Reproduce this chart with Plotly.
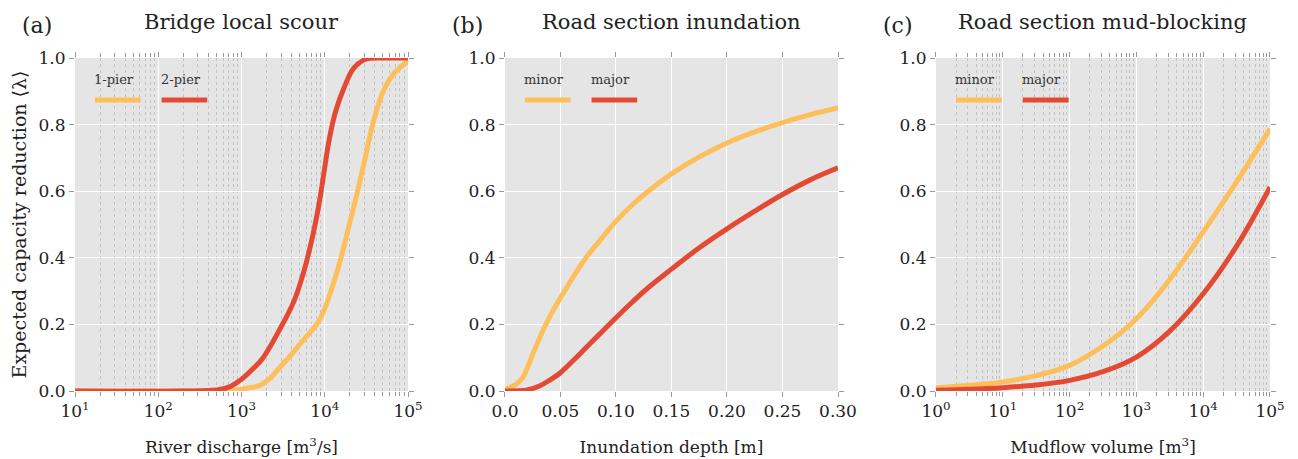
import math
import plotly.graph_objects as go
from plotly.subplots import make_subplots

# ---- data ----
# (a) Bridge local scour: river discharge [m3/s]
scour_q_1pier = [10, 300, 630, 890, 1260, 1700, 2240, 2940, 3980, 5100, 6600, 8500, 10000,
                 11700, 15400, 19400, 24400, 30800, 38700, 51000, 67300, 100000]
scour_1pier = [0, 0, 0, 0.004, 0.01, 0.018, 0.04, 0.073, 0.11, 0.143, 0.175, 0.21, 0.248,
               0.295, 0.393, 0.493, 0.593, 0.703, 0.813, 0.903, 0.953, 0.99]
scour_q_2pier = [10, 200, 500, 710, 1000, 1260, 1780, 2950, 4270, 5620, 7080, 8510, 9770,
                 11200, 13500, 17000, 22400, 31600, 50000, 100000]
scour_2pier = [0, 0, 0.003, 0.012, 0.035, 0.058, 0.097, 0.19, 0.27, 0.36, 0.46, 0.56, 0.655,
               0.75, 0.84, 0.91, 0.97, 0.997, 1.0, 1.0]

# (b) Road section inundation: depth [m]
inund_depth_minor = [0.0, 0.01, 0.016, 0.025, 0.034, 0.043, 0.05, 0.061, 0.073, 0.085, 0.10,
                     0.115, 0.13, 0.15, 0.175, 0.20, 0.225, 0.25, 0.275, 0.30]
inund_minor = [0.005, 0.02, 0.04, 0.11, 0.18, 0.24, 0.28, 0.34, 0.40, 0.45, 0.51,
               0.56, 0.602, 0.652, 0.703, 0.745, 0.778, 0.806, 0.83, 0.85]
inund_depth_major = [0.0, 0.01, 0.019, 0.031, 0.04, 0.05, 0.061, 0.073, 0.085, 0.10, 0.115,
                     0.13, 0.15, 0.175, 0.20, 0.225, 0.25, 0.275, 0.30]
inund_major = [0.0, 0.0005, 0.002, 0.015, 0.032, 0.055, 0.09, 0.13, 0.17, 0.22, 0.268,
               0.313, 0.366, 0.43, 0.487, 0.54, 0.59, 0.634, 0.67]

# (c) Road section mud-blocking: mudflow volume [m3]
mud_vol = [1, 3.16, 10, 31.6, 100, 316, 1000, 3160, 10000, 31600, 100000]
mud_minor = [0.01, 0.017, 0.027, 0.046, 0.077, 0.135, 0.217, 0.335, 0.478, 0.628, 0.787]
mud_major = [0.002, 0.005, 0.01, 0.018, 0.032, 0.058, 0.102, 0.18, 0.292, 0.435, 0.612]

titles = ["Bridge local scour", "Road section inundation", "Road section mud-blocking"]
panel_labels = ["(a)", "(b)", "(c)"]
legend_names = [["1-pier", "2-pier"], ["minor", "major"], ["minor", "major"]]
xtitles = ["River discharge [m<sup>3</sup>/s]", "Inundation depth [m]", "Mudflow volume [m<sup>3</sup>]"]
ytitle = "Expected capacity reduction \u27e8\u03bb\u27e9"
y_ticks = [0.0, 0.2, 0.4, 0.6, 0.8, 1.0]
y_ticktext = ["0.0", "0.2", "0.4", "0.6", "0.8", "1.0"]
lin_ticks = [0.0, 0.05, 0.10, 0.15, 0.20, 0.25, 0.30]
lin_ticktext = ["0.0", "0.05", "0.10", "0.15", "0.20", "0.25", "0.30"]
log_ticks_a = [10, 100, 1000, 10000, 100000]
log_text_a = ["10<sup>1</sup>", "10<sup>2</sup>", "10<sup>3</sup>", "10<sup>4</sup>", "10<sup>5</sup>"]
log_ticks_c = [1, 10, 100, 1000, 10000, 100000]
log_text_c = ["10<sup>0</sup>", "10<sup>1</sup>", "10<sup>2</sup>", "10<sup>3</sup>", "10<sup>4</sup>", "10<sup>5</sup>"]

YEL = "#FDBF5C"
RED = "#E34A33"
FONT = "DejaVu Serif"
TICKC = "#999999"
TXT = "#222222"

fig = make_subplots(rows=1, cols=3)
doms = [[0.0, 0.2787], [0.3598, 0.6385], [0.7205, 1.0]]

series = [
    [(scour_q_1pier, scour_1pier, YEL), (scour_q_2pier, scour_2pier, RED)],
    [(inund_depth_minor, inund_minor, YEL), (inund_depth_major, inund_major, RED)],
    [(mud_vol, mud_minor, YEL), (mud_vol, mud_major, RED)],
]
for i, ser in enumerate(series):
    for xs, ys, c in ser:
        fig.add_trace(go.Scatter(x=xs, y=ys, mode="lines",
                                 line=dict(color=c, width=5, shape="spline", smoothing=1.0),
                                 showlegend=False, hoverinfo="skip", cliponaxis=True),
                      row=1, col=i + 1)


def minor_vals(lo, hi):
    out = []
    for k in range(lo, hi):
        for m in range(2, 10):
            out.append(m * 10 ** k)
    return out


for i in range(3):
    ax = "xaxis" if i == 0 else f"xaxis{i+1}"
    ay = "yaxis" if i == 0 else f"yaxis{i+1}"
    xa = dict(domain=doms[i], title_text=xtitles[i], showline=False, zeroline=False,
              ticks="outside", ticklen=5, tickcolor=TICKC, mirror="ticks", automargin=False,
              gridcolor="white", gridwidth=1.3,
              tickfont=dict(family=FONT, size=17, color=TXT),
              title_font=dict(family=FONT, size=17, color=TXT), title_standoff=20)
    if i == 1:
        xa.update(type="linear", range=[0, 0.30], tickmode="array",
                  tickvals=lin_ticks, ticktext=lin_ticktext)
    else:
        tv = log_ticks_a if i == 0 else log_ticks_c
        tt = log_text_a if i == 0 else log_text_c
        lo, hi = int(round(math.log10(tv[0]))), int(round(math.log10(tv[-1])))
        xa.update(type="log", range=[lo, hi], tickmode="array", tickvals=tv, ticktext=tt,
                  minor=dict(tickmode="array", tickvals=minor_vals(lo, hi), ticks="outside",
                             ticklen=4, tickcolor=TICKC, showgrid=True,
                             gridcolor="#C2C2C2", griddash="dot", gridwidth=0.8))
    fig.layout[ax].update(xa)
    ya = dict(showline=False, zeroline=False, ticks="outside", ticklen=5, tickcolor=TICKC,
              mirror="ticks", gridcolor="white", gridwidth=1.3, range=[0, 1.0], automargin=False,
              tickmode="array", tickvals=y_ticks, ticktext=y_ticktext,
              tickfont=dict(family=FONT, size=17, color=TXT))
    if i == 0:
        ya.update(title_text=ytitle, title_font=dict(family=FONT, size=19, color=TXT),
                  title_standoff=7)
    fig.layout[ay].update(ya)

    xr = "x domain" if i == 0 else f"x{i+1} domain"
    yr = "y domain" if i == 0 else f"y{i+1} domain"
    fig.add_annotation(text=titles[i], xref=xr, yref="paper", x=0.5, y=1.0, yshift=36,
                       showarrow=False, font=dict(family=FONT, size=21, color=TXT),
                       xanchor="center", yanchor="middle")
    fig.add_annotation(text=panel_labels[i], xref=xr, yref="paper", x=0.0, y=1.0,
                       xshift=-55, yshift=33, showarrow=False,
                       font=dict(family=FONT, size=22, color=TXT),
                       xanchor="left", yanchor="middle")
    for j, (name, c) in enumerate(zip(legend_names[i], [YEL, RED])):
        x0 = 0.06 + j * 0.2
        fig.add_annotation(text=name, xref=xr, yref=yr, x=x0, y=0.934, xshift=-3,
                           showarrow=False, font=dict(family=FONT, size=13, color="#333"),
                           xanchor="left", yanchor="middle")
        fig.add_shape(type="line", xref=xr, yref=yr, x0=x0, x1=x0 + 0.137, y0=0.874, y1=0.874,
                      line=dict(color=c, width=5))

fig.update_layout(width=1290, height=451, margin=dict(l=67, r=28, t=50, b=68),
                  plot_bgcolor="#E5E5E5", paper_bgcolor="white",
                  font=dict(family=FONT, color=TXT))
fig.write_html("out.html")
